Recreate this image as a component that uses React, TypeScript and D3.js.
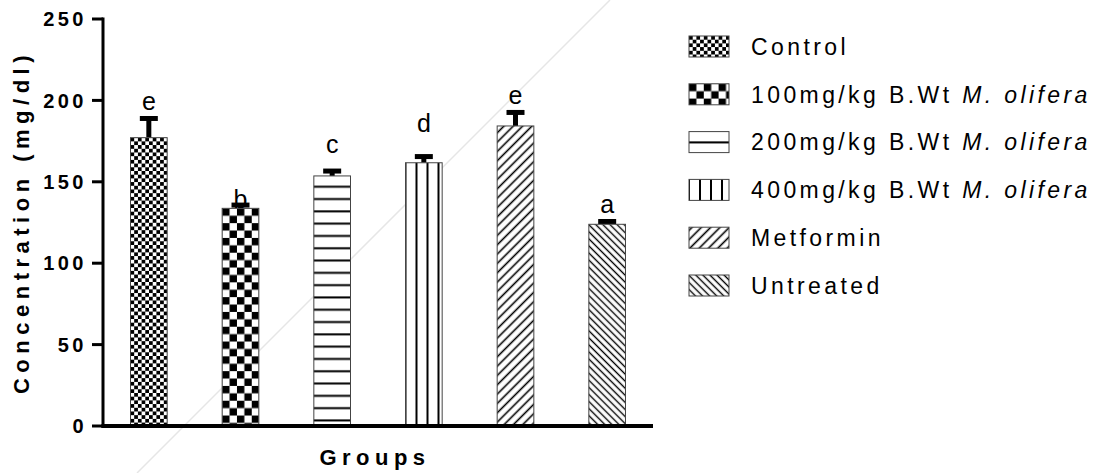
import React from "react";
import * as d3 from "d3";

const groups = ["Control", "100mg/kg", "200mg/kg", "400mg/kg", "Metformin", "Untreated"];
const means = [177.1, 133.7, 153.6, 161.7, 184.3, 123.9];
const sems = [11.8, 2.0, 3.0, 3.8, 8.3, 1.7];
const letters = ["e", "b", "c", "d", "e", "a"];
const letterAt = [194.1, 133.9, 167.7, 180.8, 197.5, 130.8];
const yTicks = [0, 50, 100, 150, 200, 250];
const legendPlain = ["Control", "100mg/kg B.Wt ", "200mg/kg B.Wt ", "400mg/kg B.Wt ", "Metformin", "Untreated"];
const legendItalic = ["", "M. olifera", "M. olifera", "M. olifera", "", ""];

const W = 1099;
const H = 473;
const FONT = "'Liberation Sans', Arial, Helvetica, sans-serif";

function makePattern(id: string, i: number, ox: number, oy: number) {
  switch (i) {
    case 0: {
      const c = 3.7;
      return (
        <pattern key={id} id={id} patternUnits="userSpaceOnUse" x={ox} y={oy} width={2 * c} height={2 * c}>
          <rect width={2 * c} height={2 * c} fill="#fff" />
          <rect x={0} y={0} width={c} height={c} fill="#000" />
          <rect x={c} y={c} width={c} height={c} fill="#000" />
        </pattern>
      );
    }
    case 1: {
      const c = 7.4;
      return (
        <pattern key={id} id={id} patternUnits="userSpaceOnUse" x={ox} y={oy} width={2 * c} height={2 * c}>
          <rect width={2 * c} height={2 * c} fill="#fff" />
          <rect x={0} y={0} width={c} height={c} fill="#000" />
          <rect x={c} y={c} width={c} height={c} fill="#000" />
        </pattern>
      );
    }
    case 2: {
      const p = 12.3;
      return (
        <pattern key={id} id={id} patternUnits="userSpaceOnUse" x={ox} y={oy} width={10} height={p}>
          <rect width={10} height={p} fill="#fff" />
          <rect x={0} y={p - 2.5} width={10} height={2} fill="#000" />
        </pattern>
      );
    }
    case 3: {
      const p = 11;
      return (
        <pattern key={id} id={id} patternUnits="userSpaceOnUse" x={ox} y={oy} width={p} height={10}>
          <rect width={p} height={10} fill="#fff" />
          <rect x={-1} y={0} width={2} height={10} fill="#000" />
          <rect x={p - 1} y={0} width={2} height={10} fill="#000" />
        </pattern>
      );
    }
    case 4: {
      const p = 6.6;
      return (
        <pattern key={id} id={id} patternUnits="userSpaceOnUse" width={p} height={p} patternTransform="rotate(45)">
          <rect width={p} height={p} fill="#fff" />
          <rect x={p / 2 - 0.8} y={0} width={1.6} height={p} fill="#000" />
        </pattern>
      );
    }
    default: {
      const p = 5;
      return (
        <pattern key={id} id={id} patternUnits="userSpaceOnUse" width={p} height={p} patternTransform="rotate(-45)">
          <rect width={p} height={p} fill="#fff" />
          <rect x={p / 2 - 0.7} y={0} width={1.4} height={p} fill="#000" />
        </pattern>
      );
    }
  }
}

export default function App() {
  const x = d3.scaleBand<string>().domain(groups).range([103, 653]).paddingInner(0.6).paddingOuter(0.3);
  const y = d3.scaleLinear().domain([0, 250]).range([426, 19]);
  const bw = x.bandwidth();

  const legX = 689;
  const legY0 = 36;
  const legStep = 47.8;
  const swW = 40;
  const swH = 21;

  const defs: React.ReactNode[] = [];
  groups.forEach((g, i) => {
    defs.push(makePattern(`pb${i}`, i, x(g)!, y(means[i])));
    defs.push(makePattern(`pl${i}`, i, legX, legY0 + i * legStep));
  });

  return (
    <svg
      width={W}
      height={H}
      style={{ position: "absolute", left: 0, top: 0, background: "#fff" }}
      fontFamily={FONT}
    >
      <defs>{defs}</defs>
      <rect width={W} height={H} fill="#fff" />
      {/* faint scan artifact line */}
      <line x1={137} y1={473} x2={610} y2={0} stroke="#e6e6e6" strokeWidth={1.5} />

      {/* bars */}
      {groups.map((g, i) => {
        const bx = x(g)!;
        const top = y(means[i]);
        const cx = bx + bw / 2;
        const ey = y(means[i] + sems[i]);
        return (
          <g key={g}>
            <line x1={cx} x2={cx} y1={top} y2={ey} stroke="#000" strokeWidth={5} />
            <line x1={cx - 9} x2={cx + 9} y1={ey} y2={ey} stroke="#000" strokeWidth={5} />
            <rect x={bx} y={top} width={bw} height={y(0) - top} fill={`url(#pb${i})`} stroke="#444" strokeWidth={1} />
            <text x={cx} y={y(letterAt[i])} textAnchor="middle" fontSize={25} fill="#000">
              {letters[i]}
            </text>
          </g>
        );
      })}

      {/* y axis */}
      <line x1={103} x2={103} y1={17.5} y2={428} stroke="#000" strokeWidth={3} />
      {yTicks.map((t) => (
        <g key={t}>
          <line x1={92} x2={103} y1={y(t)} y2={y(t)} stroke="#000" strokeWidth={3} />
          <text
            x={87}
            y={y(t)}
            dy="0.36em"
            textAnchor="end"
            fontSize={20}
            fontWeight="bold"
            letterSpacing={3.5}
            fill="#000"
          >
            {t}
          </text>
        </g>
      ))}
      {/* x axis */}
      <line x1={101.5} x2={653} y1={y(0)} y2={y(0)} stroke="#000" strokeWidth={4} />

      <text
        x={375}
        y={465}
        textAnchor="middle"
        fontSize={22}
        fontWeight="bold"
        letterSpacing={5.5}
        fill="#000"
      >
        Groups
      </text>
      <text
        transform={`translate(29,222) rotate(-90)`}
        textAnchor="middle"
        fontSize={22}
        fontWeight="bold"
        letterSpacing={5.5}
        fill="#000"
      >
        Concentration (mg/dl)
      </text>

      {/* legend */}
      {groups.map((g, i) => {
        const ly = legY0 + i * legStep;
        return (
          <g key={`l${g}`}>
            <rect x={legX} y={ly} width={swW} height={swH} fill={`url(#pl${i})`} stroke="#444" strokeWidth={1} />
            <text x={751} y={ly + swH / 2} dy="0.36em" fontSize={23} letterSpacing={3.4} fill="#000">
              {legendPlain[i]}
              {legendItalic[i] ? <tspan fontStyle="italic">{legendItalic[i]}</tspan> : null}
            </text>
          </g>
        );
      })}
    </svg>
  );
}
